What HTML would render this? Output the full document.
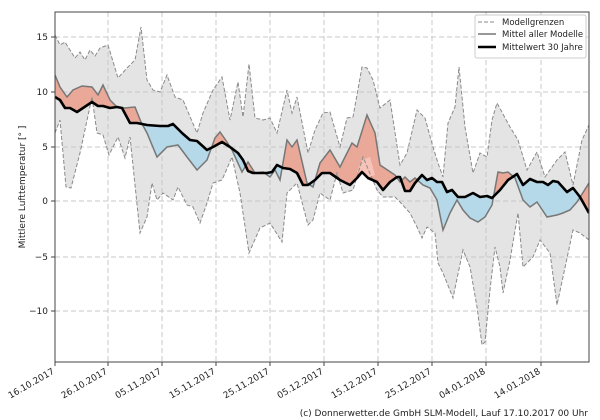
<!DOCTYPE html>
<html><head><meta charset="utf-8"><style>
html,body{margin:0;padding:0;background:#fff;}
svg{display:block;font-family:"DejaVu Sans","Liberation Sans",sans-serif;}
</style></head><body>
<svg width="600" height="420" viewBox="0 0 600 420" xmlns="http://www.w3.org/2000/svg">
<defs>
<clipPath id="plot"><rect x="55" y="12" width="534" height="350"/></clipPath>
<clipPath id="above"><polygon points="55,12 55,97 60,100 65,108 70,108 77,112 83,108 92,102 98,106 103,106 110,108 117,107 122,108 130,123 137,123 147,125 160,126 168,126 173,124 182,133 190,140 197,141 207,150 213,147 222,142 230,147 238,153 243,160 248,171 253,173 260,173 267,173 272,172 277,165 283,168 290,169 297,173 303,185 308,185 315,180 322,173 330,173 340,180 350,185 357,178 362,172 368,178 377,182 383,190 390,182 397,177 400,177 405,191 410,191 415,183 422,175 427,180 432,178 437,182 442,182 447,192 452,190 458,197 465,197 473,193 480,197 487,196 492,198 500,190 508,180 517,174 523,185 530,179 537,182 543,182 548,185 553,181 558,182 567,192 573,188 580,197 589,213 589,12"/></clipPath>
<clipPath id="below"><polygon points="55,362 55,97 60,100 65,108 70,108 77,112 83,108 92,102 98,106 103,106 110,108 117,107 122,108 130,123 137,123 147,125 160,126 168,126 173,124 182,133 190,140 197,141 207,150 213,147 222,142 230,147 238,153 243,160 248,171 253,173 260,173 267,173 272,172 277,165 283,168 290,169 297,173 303,185 308,185 315,180 322,173 330,173 340,180 350,185 357,178 362,172 368,178 377,182 383,190 390,182 397,177 400,177 405,191 410,191 415,183 422,175 427,180 432,178 437,182 442,182 447,192 452,190 458,197 465,197 473,193 480,197 487,196 492,198 500,190 508,180 517,174 523,185 530,179 537,182 543,182 548,185 553,181 558,182 567,192 573,188 580,197 589,213 589,362"/></clipPath>
</defs>
<rect x="55" y="12" width="534" height="350" fill="#fff"/>
<g clip-path="url(#plot)">
<!-- band -->
<polygon fill="#e4e4e4" points="55,35 60,45 65,42 70,50 75,58 80,52 85,60 90,50 95,56 100,48 108,45 118,78 127,68 135,60 141,27 147,80 153,90 160,92 167,75 175,97 183,100 197,133 203,113 213,90 222,77 230,120 238,82 243,117 249,64 255,118 263,120 270,118 277,133 287,90 292,113 297,97 308,153 315,130 323,113 330,112 340,147 347,118 353,117 362,67 367,68 373,80 380,108 390,100 400,165 407,153 417,110 425,118 433,147 438,163 443,177 448,123 455,107 459,67 465,127 473,173 480,153 487,157 492,120 497,103 510,127 518,140 527,170 537,152 545,177 557,160 565,152 573,185 582,140 589,125 589,240 580,233 573,230 563,277 557,305 550,253 540,240 533,257 523,267 518,213 510,260 503,293 500,267 495,247 490,290 485,342 482,345 477,307 470,267 463,250 453,298 443,273 438,263 435,233 427,227 422,238 417,227 410,213 400,202 395,197 383,197 377,190 363,157 353,190 343,193 337,173 330,200 320,193 313,220 308,225 297,183 287,193 282,242 270,223 260,228 249,253 240,193 232,157 222,180 213,183 207,203 200,223 193,207 187,205 178,187 173,200 163,193 157,200 152,183 147,217 140,233 130,137 125,158 118,137 109,155 103,135 97,133 92,97 80,153 71,188 66,187 60,120 55,133"/>
<!-- grid -->
<g stroke="#c8c8c8" stroke-width="1" stroke-dasharray="5,3" fill="none">
<path d="M108,12V362M162,12V362M216,12V362M270,12V362M324,12V362M378,12V362M432,12V362M486,12V362M541,12V362"/>
<path d="M55,37H589M55,92H589M55,147H589M55,201H589M55,257H589M55,311H589"/>
</g>
<!-- diff fill -->
<g id="diff">
<polygon id="dp" points="55,75 60,87 67,97 73,90 82,86 92,87 98,95 103,85 110,100 117,107 125,108 135,107 141,122 147,133 157,157 167,147 178,145 187,157 197,170 207,160 215,138 220,132 227,142 232,150 242,172 248,162 255,173 263,172 270,177 275,170 280,180 287,140 292,147 297,140 307,183 313,187 320,163 330,150 340,167 352,143 357,147 367,115 375,133 380,165 395,175 400,182 405,177 410,182 415,178 423,185 430,188 437,200 443,230 450,213 457,200 463,210 470,218 478,222 485,217 492,205 498,172 503,173 508,172 515,178 523,200 530,207 537,202 547,217 557,215 563,213 570,210 577,202 589,183 589,213 580,197 573,188 567,192 558,182 553,181 548,185 543,182 537,182 530,179 523,185 517,174 508,180 500,190 492,198 487,196 480,197 473,193 465,197 458,197 452,190 447,192 442,182 437,182 432,178 427,180 422,175 415,183 410,191 405,191 400,177 397,177 390,182 383,190 377,182 368,178 362,172 357,178 350,185 340,180 330,173 322,173 315,180 308,185 303,185 297,173 290,169 283,168 277,165 272,172 267,173 260,173 253,173 248,171 243,160 238,153 230,147 222,142 213,147 207,150 197,141 190,140 182,133 173,124 168,126 160,126 147,125 137,123 130,123 122,108 117,107 110,108 103,106 98,106 92,102 83,108 77,112 70,108 65,108 60,100 55,97"/>
</g>
<use href="#dp" fill="#eaa898" clip-path="url(#above)"/>
<use href="#dp" fill="#b5d9e9" clip-path="url(#below)"/>
<polygon points="357,172 362,160 370,157 375,175 368,178 362,172" fill="#f7c3b8"/>
<!-- bounds -->
<g fill="none" stroke="#8a8a8a" stroke-width="1" stroke-dasharray="4,2">
<polyline points="55,35 60,45 65,42 70,50 75,58 80,52 85,60 90,50 95,56 100,48 108,45 118,78 127,68 135,60 141,27 147,80 153,90 160,92 167,75 175,97 183,100 197,133 203,113 213,90 222,77 230,120 238,82 243,117 249,64 255,118 263,120 270,118 277,133 287,90 292,113 297,97 308,153 315,130 323,113 330,112 340,147 347,118 353,117 362,67 367,68 373,80 380,108 390,100 400,165 407,153 417,110 425,118 433,147 438,163 443,177 448,123 455,107 459,67 465,127 473,173 480,153 487,157 492,120 497,103 510,127 518,140 527,170 537,152 545,177 557,160 565,152 573,185 582,140 589,125"/>
<polyline points="589,240 580,233 573,230 563,277 557,305 550,253 540,240 533,257 523,267 518,213 510,260 503,293 500,267 495,247 490,290 485,342 482,345 477,307 470,267 463,250 453,298 443,273 438,263 435,233 427,227 422,238 417,227 410,213 400,202 395,197 383,197 377,190 363,157 353,190 343,193 337,173 330,200 320,193 313,220 308,225 297,183 287,193 282,242 270,223 260,228 249,253 240,193 232,157 222,180 213,183 207,203 200,223 193,207 187,205 178,187 173,200 163,193 157,200 152,183 147,217 140,233 130,137 125,158 118,137 109,155 103,135 97,133 92,97 80,153 71,188 66,187 60,120 55,133"/>
</g>
<polyline fill="none" stroke="#777" stroke-width="1.5" points="55,75 60,87 67,97 73,90 82,86 92,87 98,95 103,85 110,100 117,107 125,108 135,107 141,122 147,133 157,157 167,147 178,145 187,157 197,170 207,160 215,138 220,132 227,142 232,150 242,172 248,162 255,173 263,172 270,177 275,170 280,180 287,140 292,147 297,140 307,183 313,187 320,163 330,150 340,167 352,143 357,147 367,115 375,133 380,165 395,175 400,182 405,177 410,182 415,178 423,185 430,188 437,200 443,230 450,213 457,200 463,210 470,218 478,222 485,217 492,205 498,172 503,173 508,172 515,178 523,200 530,207 537,202 547,217 557,215 563,213 570,210 577,202 589,183"/>
<polyline fill="none" stroke="#000" stroke-width="2.6" stroke-linejoin="round" points="55,97 60,100 65,108 70,108 77,112 83,108 92,102 98,106 103,106 110,108 117,107 122,108 130,123 137,123 147,125 160,126 168,126 173,124 182,133 190,140 197,141 207,150 213,147 222,142 230,147 238,153 243,160 248,171 253,173 260,173 267,173 272,172 277,165 283,168 290,169 297,173 303,185 308,185 315,180 322,173 330,173 340,180 350,185 357,178 362,172 368,178 377,182 383,190 390,182 397,177 400,177 405,191 410,191 415,183 422,175 427,180 432,178 437,182 442,182 447,192 452,190 458,197 465,197 473,193 480,197 487,196 492,198 500,190 508,180 517,174 523,185 530,179 537,182 543,182 548,185 553,181 558,182 567,192 573,188 580,197 589,213"/>
</g>
<rect x="55" y="12" width="534" height="350" fill="none" stroke="#444" stroke-width="1"/>
<!-- ticks -->
<g stroke="#444" stroke-width="1">
<path d="M51,37H55M51,92H55M51,147H55M51,201H55M51,257H55M51,311H55"/>
<path d="M55,362V366M108,362V366M162,362V366M216,362V366M270,362V366M324,362V366M378,362V366M432,362V366M486,362V366M541,362V366"/>
</g>
<g font-size="9" fill="#222" text-anchor="end">
<text x="48" y="40">15</text><text x="48" y="95">10</text><text x="48" y="150">5</text><text x="48" y="204">0</text><text x="48" y="260">−5</text><text x="48" y="314">−10</text>
</g>
<g font-size="9" fill="#222" text-anchor="end">
<text transform="translate(55,373) rotate(-30)">16.10.2017</text>
<text transform="translate(108,373) rotate(-30)">26.10.2017</text>
<text transform="translate(162,373) rotate(-30)">05.11.2017</text>
<text transform="translate(216,373) rotate(-30)">15.11.2017</text>
<text transform="translate(270,373) rotate(-30)">25.11.2017</text>
<text transform="translate(324,373) rotate(-30)">05.12.2017</text>
<text transform="translate(378,373) rotate(-30)">15.12.2017</text>
<text transform="translate(432,373) rotate(-30)">25.12.2017</text>
<text transform="translate(486,373) rotate(-30)">04.01.2018</text>
<text transform="translate(541,373) rotate(-30)">14.01.2018</text>
</g>
<text transform="translate(25,187) rotate(-90)" font-size="9" fill="#222" text-anchor="middle">Mittlere Lufttemperatur [° ]</text>
<text x="588" y="416" font-size="9" fill="#222" text-anchor="end">(c) Donnerwetter.de GmbH SLM-Modell, Lauf 17.10.2017 00 Uhr</text>
<!-- legend -->
<rect x="475" y="15" width="111" height="43" fill="#fff" stroke="#ccc" rx="2"/>
<line x1="478" y1="22" x2="496" y2="22" stroke="#8a8a8a" stroke-dasharray="4,2"/>
<line x1="478" y1="34" x2="496" y2="34" stroke="#777" stroke-width="1.5"/>
<line x1="478" y1="47" x2="496" y2="47" stroke="#000" stroke-width="2.6"/>
<g font-size="8.5" fill="#222">
<text x="502" y="25">Modellgrenzen</text>
<text x="502" y="37">Mittel aller Modelle</text>
<text x="502" y="50">Mittelwert 30 Jahre</text>
</g>
</svg>
</body></html>
